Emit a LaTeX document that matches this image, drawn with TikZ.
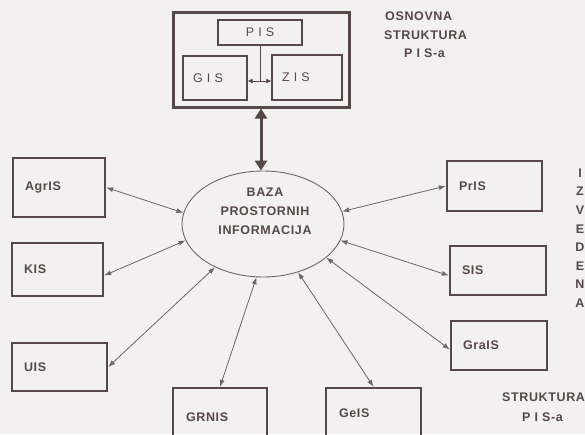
\documentclass[tikz,border=0pt]{standalone}
\usepackage{fontspec}
\setmainfont{Liberation Sans}
\newfontfamily\lblfont[LetterSpace=5]{Liberation Sans}
\usetikzlibrary{arrows.meta,shapes.geometric,calc}
\definecolor{ink}{HTML}{564849}
\definecolor{wire}{HTML}{6F6466}
\definecolor{paper}{HTML}{F2F0F0}
\begin{document}
\begin{tikzpicture}[x=1pt,y=-1pt,
  lab/.style={font=\lblfont\bfseries\fontsize{12.5}{14}\selectfont, text=ink},
  sbox/.style={draw=ink, line width=2.4pt, inner xsep=12pt, inner ysep=0pt, align=left, lab},
  ibox/.style={draw=ink, line width=1.3pt, inner sep=0pt, font=\lblfont\fontsize{12.5}{14}\selectfont, text=ink},
  link/.style={draw=wire, line width=0.8pt, {Latex[length=7pt,width=5pt]}-{Latex[length=7pt,width=5pt]}},
  free/.style={lab, inner sep=0pt, anchor=west},
]
\useasboundingbox (0,0) rectangle (585,434);
\clip (0,0) rectangle (585,434);
\fill[paper] (0,0) rectangle (585,434);

% basic structure
\node[draw=ink, line width=3pt, minimum width=176pt, minimum height=95pt, inner sep=0pt] (outer) at (261,59.5) {};
\node[ibox, minimum width=84pt, minimum height=25pt] (pis) at (260,32.5) {P I S};
\node[ibox, minimum width=64pt, minimum height=44pt, inner xsep=10pt, text width=44pt, align=left] (gis) at (215,78) {G I S};
\node[ibox, minimum width=70pt, minimum height=45pt, inner xsep=10pt, text width=50pt, align=left] (zis) at (307,77.5) {Z I S};
\coordinate (j) at (260,81);
\draw[draw=ink, line width=0.8pt] (pis.south) -- (j);
\draw[draw=ink, line width=0.8pt, {Latex[length=5pt,width=5pt]}-{Latex[length=5pt,width=5pt]}] (gis.east |- j) -- (zis.west |- j);

\node[free] (osn1) at (385,16) {OSNOVNA};
\node[free] (osn2) at (384,35) {STRUKTURA};
\node[free] (osn3) at (404,53) {P I S-a};

% database
\node[ellipse, draw=wire, line width=0.9pt, minimum width=162pt, minimum height=106pt, inner sep=0pt] (ell) at (263,224) {};
\node[lab, align=center, inner sep=0pt, font=\lblfont\bfseries\fontsize{12.5}{19}\selectfont] (baza) at (265,211) {BAZA\\PROSTORNIH\\INFORMACIJA};

\draw[draw=ink, line width=3pt, {Triangle[length=10pt,width=12pt]}-{Triangle[length=10pt,width=12pt]}] (outer.south) -- (outer.south |- ell.north);

% derived systems
\node[sbox, minimum height=59pt, text width=68pt] (agris) at (59,187.5) {AgrIS};
\node[sbox, minimum height=53pt, text width=67pt] (kis) at (57.5,269.5) {KIS};
\node[sbox, minimum height=48pt, text width=71pt] (uis) at (59.5,367) {UIS};
\node[sbox, minimum height=50pt, text width=71pt] (pris) at (494.5,186) {PrIS};
\node[sbox, minimum height=49pt, text width=72pt] (sis) at (498,270.5) {SIS};
\node[sbox, minimum height=49pt, text width=72pt] (grais) at (499,345.5) {GraIS};
\node[sbox, minimum height=58pt, text width=68pt, inner xsep=13pt] (grnis) at (220,417) {GRNIS};
\node[sbox, minimum height=50pt, text width=69pt, inner xsep=13pt] (geis) at (373.5,413) {GeIS};

\draw[link] (agris.east) -- (ell.172);
\draw[link] ([yshift=-6pt]kis.east) -- (ell.192);
\draw[link] (uis.east) -- (ell.222);
\draw[link] (grnis.north) -- (ell.263.5);
\draw[link] (geis.north) -- (ell.306);
\draw[link] ([yshift=-4pt]grais.west) -- (ell.332);
\draw[link] ([yshift=-5pt]sis.west) -- (ell.348);
\draw[link] (pris.west) -- (ell.9);

% side captions
\foreach \c [count=\i] in {I,Z,V,E,D,E,N,A}
  \node[lab, inner sep=0pt] (iz\i) at (580,{173+18.6*(\i-1)}) {\c};
\node[free] (st1) at (502,397) {STRUKTURA};
\node[free] (st2) at (522,417) {P I S-a};
\end{tikzpicture}
\end{document}
